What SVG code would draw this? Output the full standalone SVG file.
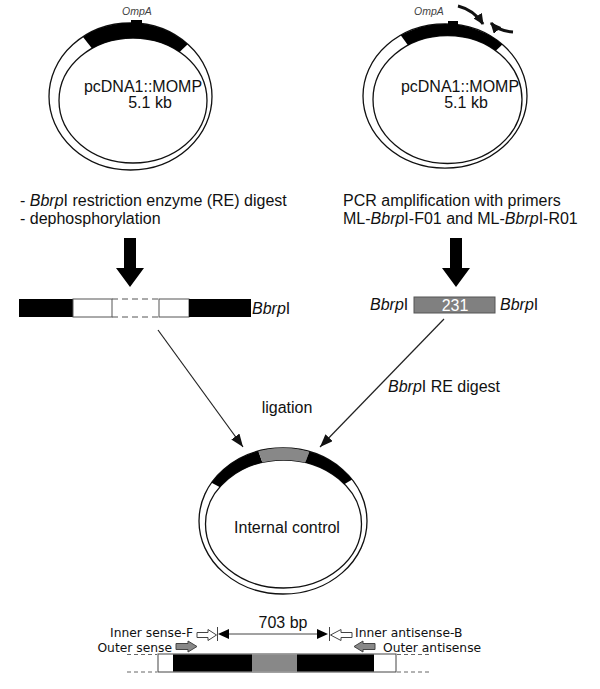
<svg xmlns="http://www.w3.org/2000/svg" width="600" height="689" viewBox="0 0 600 689">
<style>
text{font-family:"Liberation Sans",Arial,sans-serif;fill:#111;}
.t16{font-size:16px;}
.it{font-style:italic;}
.omp{font-size:10.5px;font-style:italic;fill:#444;}
.lab{font-family:"DejaVu Sans",Verdana,sans-serif;font-size:12.3px;}
.ring{fill:#fff;stroke:#111;stroke-width:1.3;fill-rule:evenodd;}
.band{fill:#000;fill-rule:evenodd;}
.gband{fill:#888;fill-rule:evenodd;}
.thin{stroke:#222;stroke-width:1.2;fill:none;}
.primer{stroke:#111;stroke-width:3;fill:none;}
.seg{stroke:#555;stroke-width:1;}
</style>
<defs>
<marker id="ah" markerUnits="userSpaceOnUse" markerWidth="14" markerHeight="10" refX="13" refY="5" orient="auto">
<path d="M0,0 L13,5 L0,10 z" fill="#111"/>
</marker>
<marker id="ph" markerUnits="userSpaceOnUse" markerWidth="12" markerHeight="10" refX="10" refY="5" orient="auto">
<path d="M0,0 L11,5 L0,10 z" fill="#111"/>
</marker>
<clipPath id="wL"><polygon points="131,98 35,-24 245,-10"/></clipPath>
<clipPath id="wR"><polygon points="446,98 358,-24 564,-14"/></clipPath>
<clipPath id="wB1"><polygon points="283,521 70,407 208,308"/></clipPath>
<clipPath id="wB2"><polygon points="283,521 208,308 364,308"/></clipPath>
<clipPath id="wB3"><polygon points="283,521 364,308 478,404"/></clipPath>
</defs>
<rect width="600" height="689" fill="#fff"/>

<g id="plasmid-left">
<path class="ring" d="M49,96.5 a81.5,73.5 0 1,0 163,0 a81.5,73.5 0 1,0 -163,0 Z M59,100.5 a74,62.5 0 1,0 148,0 a74,62.5 0 1,0 -148,0 Z"/>
<path class="band" clip-path="url(#wL)" d="M49,96.5 a81.5,73.5 0 1,0 163,0 a81.5,73.5 0 1,0 -163,0 Z M59,100.5 a74,62.5 0 1,0 148,0 a74,62.5 0 1,0 -148,0 Z"/>
<rect x="131" y="20" width="11" height="4" fill="#000"/>
<text class="omp" x="137" y="15" text-anchor="middle">OmpA</text>
<text class="t16" x="143" y="92" text-anchor="middle">pcDNA1::MOMP</text>
<text class="t16" x="150" y="108" text-anchor="middle">5.1 kb</text>
</g>

<g id="plasmid-right">
<path class="ring" d="M363,96 a82,72 0 1,0 164,0 a82,72 0 1,0 -164,0 Z M373,99.5 a74.5,64 0 1,0 149,0 a74.5,64 0 1,0 -149,0 Z"/>
<path class="band" clip-path="url(#wR)" d="M363,96 a82,72 0 1,0 164,0 a82,72 0 1,0 -164,0 Z M373,99.5 a74.5,64 0 1,0 149,0 a74.5,64 0 1,0 -149,0 Z"/>
<rect x="448" y="21" width="10" height="4" fill="#000"/>
<text class="omp" x="429" y="15" text-anchor="middle">OmpA</text>
<text class="t16" x="460" y="92" text-anchor="middle">pcDNA1::MOMP</text>
<text class="t16" x="466" y="108" text-anchor="middle">5.1 kb</text>
</g>

<g id="primers">
<path class="primer" marker-end="url(#ph)" d="M458,6 Q474,10 483,24"/>
<path class="primer" marker-end="url(#ph)" d="M513,32 Q498,31 491,23"/>
</g>

<g id="step-left">
<text class="t16" x="20" y="206">- <tspan class="it">Bbrp</tspan>I restriction enzyme (RE) digest</text>
<text class="t16" x="20" y="224">- dephosphorylation</text>
<polygon points="124,238 136,238 136,268 144,268 130,287 116,268 124,268" fill="#000"/>
</g>

<g id="step-right">
<text class="t16" x="343" y="206">PCR amplification with primers</text>
<text class="t16" x="343" y="224">ML-<tspan class="it">Bbrp</tspan>I-F01 and ML-<tspan class="it">Bbrp</tspan>I-R01</text>
<polygon points="450,238 462,238 462,268 470,268 456,287 442,268 450,268" fill="#000"/>
</g>

<g id="vector-fragment">
<rect x="19" y="299" width="54" height="18" fill="#000"/>
<rect x="73" y="299" width="39" height="18" fill="#fff" class="seg"/>
<line x1="112" y1="299" x2="159" y2="299" class="seg" stroke-dasharray="6,4"/>
<line x1="112" y1="317" x2="159" y2="317" class="seg" stroke-dasharray="6,4"/>
<rect x="159" y="299" width="30" height="18" fill="#fff" class="seg"/>
<rect x="189" y="299" width="62" height="18" fill="#000"/>
<text class="t16" x="252" y="314"><tspan class="it">Bbrp</tspan>I</text>
</g>

<g id="pcr-fragment">
<text class="t16" x="370" y="310"><tspan class="it">Bbrp</tspan>I</text>
<rect x="414" y="297" width="81" height="16" fill="#808080" stroke="#555" stroke-width="1"/>
<text class="t16" x="455" y="311" text-anchor="middle" style="fill:#fff">231</text>
<text class="t16" x="500" y="310"><tspan class="it">Bbrp</tspan>I</text>
</g>

<g id="connectors">
<line class="thin" x1="158" y1="330" x2="243" y2="447" marker-end="url(#ah)"/>
<line class="thin" x1="444" y1="319" x2="320" y2="447" marker-end="url(#ah)"/>
<text class="t16" x="388" y="392"><tspan class="it">Bbrp</tspan>I RE digest</text>
<text class="t16" x="287" y="413" text-anchor="middle">ligation</text>
</g>

<g id="plasmid-internal-control">
<path class="ring" d="M199,521 a84,73 0 1,0 168,0 a84,73 0 1,0 -168,0 Z M205.5,524 a78,64 0 1,0 156,0 a78,64 0 1,0 -156,0 Z"/>
<path class="band" clip-path="url(#wB1)" d="M199,521 a84,73 0 1,0 168,0 a84,73 0 1,0 -168,0 Z M205.5,524 a78,64 0 1,0 156,0 a78,64 0 1,0 -156,0 Z"/>
<path class="gband" clip-path="url(#wB2)" d="M199,521 a84,73 0 1,0 168,0 a84,73 0 1,0 -168,0 Z M205.5,524 a78,64 0 1,0 156,0 a78,64 0 1,0 -156,0 Z"/>
<path class="band" clip-path="url(#wB3)" d="M199,521 a84,73 0 1,0 168,0 a84,73 0 1,0 -168,0 Z M205.5,524 a78,64 0 1,0 156,0 a78,64 0 1,0 -156,0 Z"/>
<text class="t16" x="287" y="533" text-anchor="middle">Internal control</text>
</g>

<g id="amplicon-map">
<line x1="127" y1="654.5" x2="157" y2="654.5" stroke="#666" stroke-dasharray="4,3"/>
<line x1="127" y1="672" x2="157" y2="672" stroke="#666" stroke-dasharray="4,3"/>
<line x1="397" y1="654.5" x2="430" y2="654.5" stroke="#666" stroke-dasharray="4,3"/>
<line x1="397" y1="672" x2="430" y2="672" stroke="#666" stroke-dasharray="4,3"/>
<rect x="158" y="654" width="238" height="18" fill="#fff" stroke="#444" stroke-width="1"/>
<rect x="173" y="654.5" width="79" height="17" fill="#000"/>
<rect x="252" y="654.5" width="45" height="17" fill="#888"/>
<rect x="297" y="654.5" width="77" height="17" fill="#000"/>
<text class="t16" x="283" y="628" text-anchor="middle">703 bp</text>
<line x1="222" y1="634" x2="324" y2="634" stroke="#444" stroke-width="1"/>
<polygon points="218,634 229,629 229,639" fill="#000"/>
<polygon points="328,634 317,629 317,639" fill="#000"/>
<line x1="217.5" y1="627" x2="217.5" y2="641" stroke="#444"/>
<line x1="329.5" y1="627" x2="329.5" y2="641" stroke="#444"/>
<polygon points="197,632.5 208,632.5 208,629.5 216.5,635 208,640.5 208,637.5 197,637.5" fill="#fff" stroke="#444"/>
<polygon points="352,632.5 341,632.5 341,629.5 330.5,635 341,640.5 341,637.5 352,637.5" fill="#fff" stroke="#444"/>
<polygon points="176,643.5 188,643.5 188,641 197,646.5 188,652 188,649.5 176,649.5" fill="#888" stroke="#444"/>
<polygon points="375,643.5 363,643.5 363,641 354,646.5 363,652 363,649.5 375,649.5" fill="#888" stroke="#444"/>
<text class="lab" x="193" y="637" text-anchor="end">Inner sense-F</text>
<text class="lab" x="172" y="652" text-anchor="end">Outer sense</text>
<text class="lab" x="355" y="637">Inner antisense-B</text>
<text class="lab" x="383" y="652">Outer antisense</text>
</g>
</svg>
